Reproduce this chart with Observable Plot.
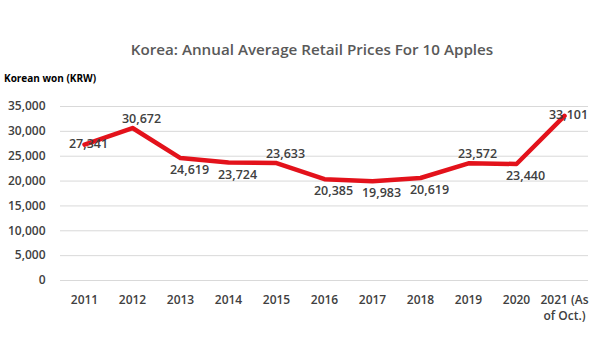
<!DOCTYPE html>
<html>
<head>
<meta charset="utf-8">
<script src="https://cdn.jsdelivr.net/npm/d3@7"></script>
<script src="https://cdn.jsdelivr.net/npm/@observablehq/plot@0.6"></script>
<style>
  html, body { margin: 0; padding: 0; background: #fff; }
  #wrap { position: relative; width: 600px; height: 356px; font-family: "Open Sans", sans-serif; }
  #title { position: absolute; left: 24px; right: 0; top: 39px; text-align: center; font-size: 15.2px; font-weight: 600; color: #595959; }
  #unit { position: absolute; left: 4px; top: 71px; font-size: 10px; font-weight: 700; color: #000; }
  #chart { position: absolute; left: 0; top: 0; }
</style>
</head>
<body>
<div id="wrap">
  <div id="chart"></div>
  <div id="title">Korea: Annual Average Retail Prices For 10 Apples</div>
  <div id="unit">Korean won (KRW)</div>
</div>
<script>
const years = ["2011","2012","2013","2014","2015","2016","2017","2018","2019","2020","2021 (As\nof Oct.)"];
const prices = [27341, 30672, 24619, 23724, 23633, 20385, 19983, 20619, 23572, 23440, 33101];
const yTicks = [0, 5000, 10000, 15000, 20000, 25000, 30000, 35000];
const labelPlacement = ["on","above","below","below","above","below","below","below","above","below","on"];

const data = years.map((y, i) => ({year: y, price: prices[i], place: labelPlacement[i]}));
const fmt = d3.format(",");
const textStyle = {fontSize: 12, fontWeight: 600, fill: "#404040"};

const chart = Plot.plot({
  width: 600,
  height: 356,
  marginTop: 106,
  marginBottom: 76,
  marginLeft: 60,
  marginRight: 12,
  style: {fontFamily: "Open Sans, sans-serif", background: "transparent"},
  x: {type: "point", domain: years, padding: 0.5, label: null},
  y: {domain: [0, 35000], label: null},
  marks: [
    Plot.gridY(yTicks, {stroke: "#d9d9d9", strokeOpacity: 1, strokeWidth: 1}),
    Plot.axisY(yTicks, {tickSize: 0, tickPadding: 15, tickFormat: fmt, label: null, ...textStyle}),
    Plot.axisX({tickSize: 0, tickPadding: 12, label: null, lineHeight: 1.35, ...textStyle}),
    Plot.line(data, {x: "year", y: "price", stroke: "#e3121b", strokeWidth: 4.5, strokeLinejoin: "round"}),
    Plot.text(data.filter(d => d.place === "on"), {x: "year", y: "price", text: d => fmt(d.price), dx: 4, dy: -1, ...textStyle, fontSize: 12.5}),
    Plot.text(data.filter(d => d.place === "above"), {x: "year", y: "price", text: d => fmt(d.price), dx: 9, dy: -9, ...textStyle, fontSize: 12.5}),
    Plot.text(data.filter(d => d.place === "below"), {x: "year", y: "price", text: d => fmt(d.price), dx: 9, dy: 12, ...textStyle, fontSize: 12.5})
  ]
});
document.getElementById("chart").appendChild(chart);
</script>
</body>
</html>
